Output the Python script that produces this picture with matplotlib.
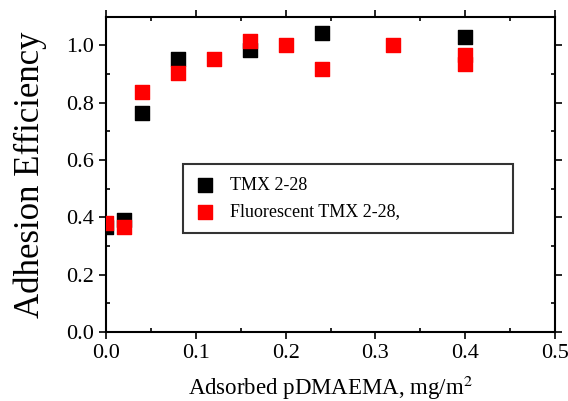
import matplotlib.pyplot as plt
from matplotlib.ticker import MultipleLocator

plt.rcParams['font.family'] = ['Liberation Serif', 'DejaVu Serif']
plt.rcParams['mathtext.fontset'] = 'stix'

# TMX 2-28 (black)
x_tmx = [0.0, 0.02, 0.04, 0.08, 0.16, 0.24, 0.40]
y_tmx = [0.365, 0.39, 0.765, 0.952, 0.985, 1.045, 1.028]

# Fluorescent TMX 2-28 (red)
x_fl = [0.0, 0.02, 0.04, 0.08, 0.12, 0.16, 0.20, 0.24, 0.32, 0.40, 0.40]
y_fl = [0.382, 0.368, 0.837, 0.903, 0.953, 1.014, 1.0, 0.919, 1.0, 0.967, 0.934]

fig = plt.figure(figsize=(5.68, 4.01), dpi=100)
ax = fig.add_axes([0.187, 0.172, 0.790, 0.786])

ax.scatter(x_tmx, y_tmx, marker='s', s=90, color='black', label='TMX 2-28', zorder=3)
ax.scatter(x_fl, y_fl, marker='s', s=90, color='red', label='Fluorescent TMX 2-28,', zorder=4)

ax.set_xlim(0, 0.5)
ax.set_ylim(0, 1.1)
ax.xaxis.set_major_locator(MultipleLocator(0.1))
ax.xaxis.set_minor_locator(MultipleLocator(0.05))
ax.yaxis.set_major_locator(MultipleLocator(0.2))
ax.yaxis.set_minor_locator(MultipleLocator(0.1))
ax.tick_params(which='both', top=True, right=True, labelsize=16, width=1.2)
ax.tick_params(which='major', length=5, direction='out')
ax.tick_params(which='minor', length=3, direction='in')
for s in ax.spines.values():
    s.set_linewidth(1.5)

ax.set_xlabel('Adsorbed pDMAEMA, mg/m$^2$', fontsize=16.5, labelpad=8)
ax.set_ylabel('Adhesion Efficiency', fontsize=25, labelpad=14)

# legend box placed inside the axes, as in the original figure
leg = ax.legend(loc='center', bbox_to_anchor=(0.171, 0.317, 0.735, 0.213), mode='expand',
                borderaxespad=0, fontsize=13, frameon=True, fancybox=False,
                edgecolor='black', handlelength=1.0, handletextpad=0.9,
                borderpad=0.7, labelspacing=0.55, markerscale=1.0)
leg.get_frame().set_linewidth(1.5)

fig.savefig('out.png', dpi=100)
